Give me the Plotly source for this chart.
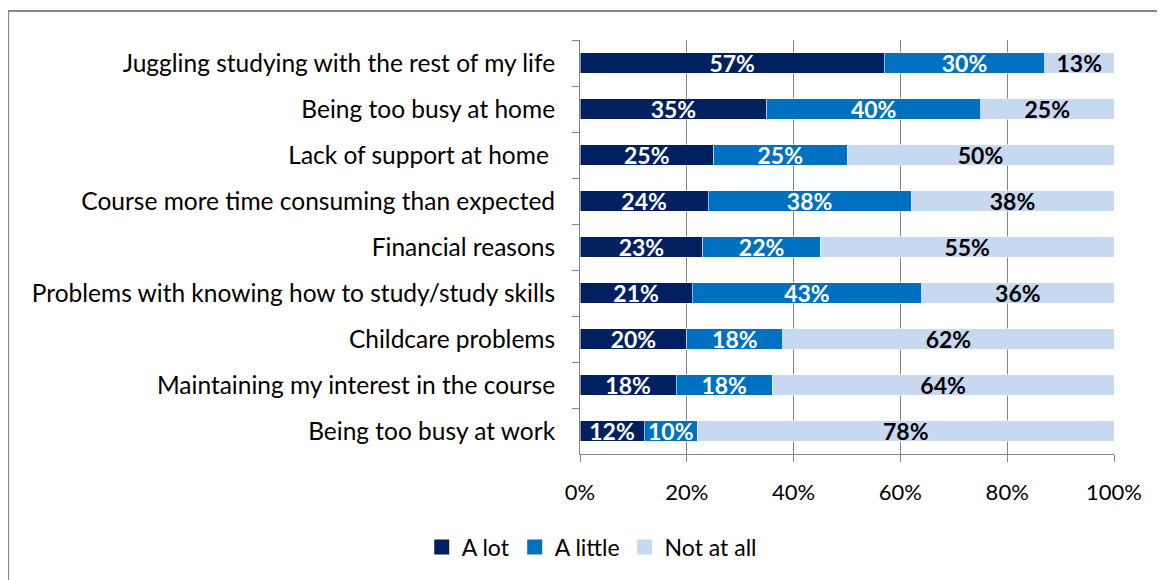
import plotly.graph_objects as go

# survey items, top to bottom as shown
reasons = [
    "Juggling studying with the rest of my life",
    "Being too busy at home",
    "Lack of support at home ",
    "Course more time consuming than expected",
    "Financial reasons",
    "Problems with knowing how to study/study skills",
    "Childcare problems",
    "Maintaining my interest in the course",
    "Being too busy at work",
]
a_lot = [57, 35, 25, 24, 23, 21, 20, 18, 12]
a_little = [30, 40, 25, 38, 22, 43, 18, 18, 10]
not_at_all = [13, 25, 50, 38, 55, 36, 62, 64, 78]
x_ticks = [0, 20, 40, 60, 80, 100]

series = [
    ("A lot", a_lot, "#002060", "white"),
    ("A little", a_little, "#0070C0", "white"),
    ("Not at all", not_at_all, "#C6D9F1", "black"),
]

FONT = "Lato, Calibri, sans-serif"

fig = go.Figure()
for name, vals, color, txtcol in series:
    fig.add_trace(go.Bar(
        y=reasons, x=vals, name=name, orientation="h", showlegend=False,
        marker=dict(color=color, line=dict(color="white", width=0.5)),
        text=[f"{v}%" for v in vals], texttemplate="%{text}",
        textposition="inside", insidetextanchor="middle",
        textfont=dict(family=FONT, size=23, color=txtcol, weight="bold"),
        constraintext="none",
    ))

# legend entries with square swatches
for name, vals, color, txtcol in series:
    fig.add_trace(go.Scatter(
        x=[None], y=[None], mode="markers", name=name,
        marker=dict(symbol="square", size=15, color=color),
    ))

# outer frame around the chart (Word-style chart border)
fig.add_shape(type="rect", xref="paper", yref="paper",
              x0=-1.071, x1=1.3, y0=-0.5, y1=1.070,
              line=dict(color="#878787", width=2), fillcolor="rgba(0,0,0,0)")

# page body has an 8px margin, so the figure is sized to fit inside it
fig.update_layout(
    width=1157, height=572,
    margin=dict(l=572, r=51, t=32, b=125),
    barmode="stack", bargap=0.56,
    plot_bgcolor="white", paper_bgcolor="white",
    font=dict(family=FONT, size=24, color="black"),
    showlegend=True,
    legend=dict(orientation="h", x=0.022, xanchor="center", y=-0.222, yanchor="middle",
                font=dict(size=23), traceorder="normal", itemwidth=30),
)
fig.update_xaxes(
    range=[0, 100], tickvals=x_ticks, ticktext=[f"{v}%" for v in x_ticks],
    showgrid=True, gridcolor="#868686", gridwidth=1,
    showline=True, linecolor="#868686", linewidth=1,
    ticks="outside", ticklen=7, tickcolor="#868686",
    tickfont=dict(size=22), zeroline=False, ticklabelstandoff=12,
)
fig.update_yaxes(
    categoryorder="array", categoryarray=reasons, autorange="reversed",
    showline=True, linecolor="#868686", linewidth=1,
    ticks="outside", tickson="boundaries", ticklen=7, tickcolor="#868686",
    tickfont=dict(size=24.5), ticklabelstandoff=19,
)

fig.write_html("out.html")
